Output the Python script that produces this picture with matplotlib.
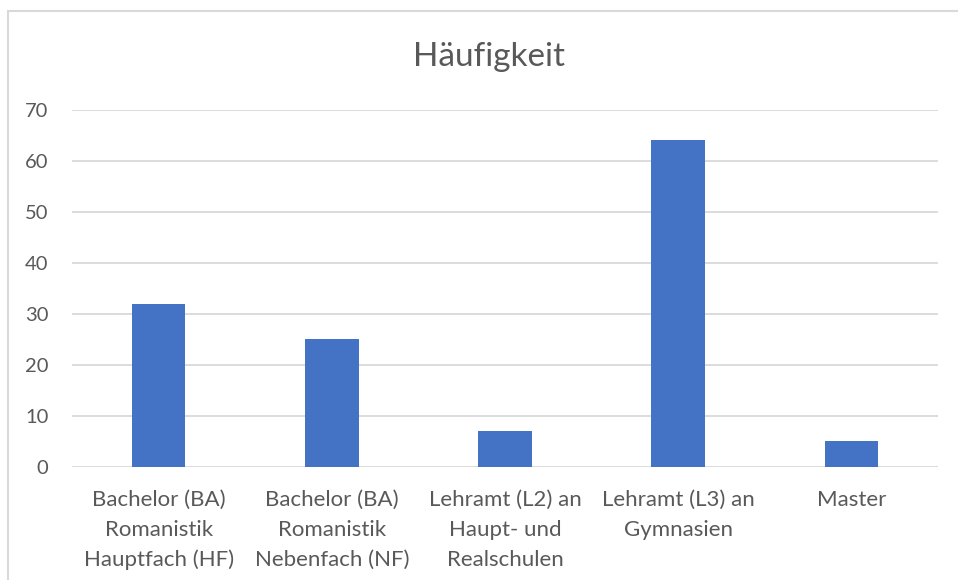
import matplotlib.pyplot as plt
from matplotlib.patches import Rectangle

# categories and counts
categories = [
    'Bachelor (BA)\nRomanistik\nHauptfach (HF)',
    'Bachelor (BA)\nRomanistik\nNebenfach (NF)',
    'Lehramt (L2) an\nHaupt- und\nRealschulen',
    'Lehramt (L3) an\nGymnasien',
    'Master',
]
counts = [32, 25, 7, 64, 5]
yticks = [0, 10, 20, 30, 40, 50, 60, 70]

plt.rcParams['font.family'] = ['Lato', 'DejaVu Sans']

W, H = 958, 580
fig = plt.figure(figsize=(W / 100, H / 100), dpi=100)

# chart border (cropped at right/bottom)
fig.patches.append(Rectangle((8 / W, -0.1), 1.2, 1.1 - 11 / H,
                             transform=fig.transFigure, fill=False,
                             edgecolor='#d9d9d9', linewidth=1.5))

ax = fig.add_axes([72 / W, (H - 466.7) / H, 866 / W, 357 / H])
x = range(len(categories))
ax.bar(x, counts, width=0.31, color='#4472c4', zorder=3)
ax.set_xlim(-0.5, len(categories) - 0.5)
ax.set_ylim(0, 70)
ax.set_yticks(yticks)
ax.set_xticks(list(x))
ax.set_xticklabels(categories, fontsize=16, color='#595959', linespacing=1.6)
ax.tick_params(axis='y', labelsize=14.5, labelcolor='#595959', length=0, pad=17)
ax.tick_params(axis='x', length=0, pad=17)
ax.grid(axis='y', color='#d9d9d9', linewidth=1.3, zorder=0)
for s in ax.spines.values():
    s.set_visible(False)

fig.text(489 / W, 1 - 57 / H, 'Häufigkeit', fontsize=24, color='#595959',
         ha='center', va='center')

fig.savefig('out.png', dpi=100)
